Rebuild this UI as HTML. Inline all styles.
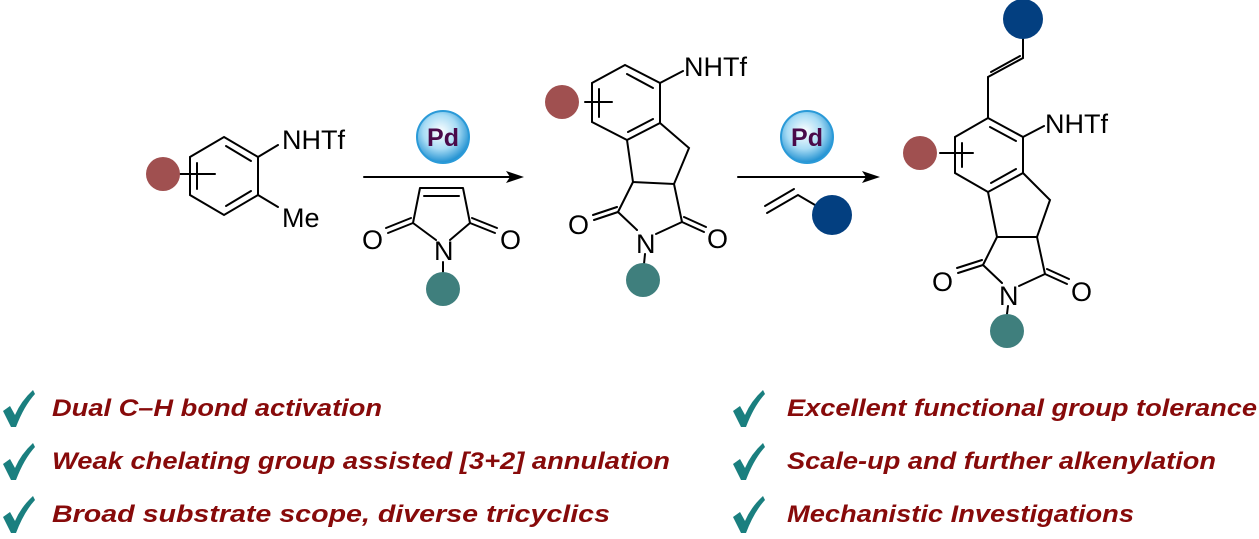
<!DOCTYPE html>
<html><head><meta charset="utf-8"><style>
html,body{margin:0;padding:0;background:#fff;}
svg{display:block;}
</style></head><body>
<svg width="1259" height="539" viewBox="0 0 1259 539" xmlns="http://www.w3.org/2000/svg" font-family="Liberation Sans, Arial, sans-serif">
<defs>
<radialGradient id="pd" cx="0.45" cy="0.4" r="0.6">
<stop offset="0" stop-color="#ffffff"/>
<stop offset="0.55" stop-color="#a8dcf5"/>
<stop offset="1" stop-color="#1e8fd0"/>
</radialGradient>
<g id="chk"><path d="M0,13 L7,8 L12,17 Q18,3 30,-8 L32,-4 Q21,8 13,29 L8,29 Z" fill="#1a7f7f"/></g>
</defs>
<g stroke="#000" stroke-width="2" fill="none" stroke-linecap="round">
<path d="M224,137 L258,157 L258,195 L224,215 L190,195 L190,157 Z"/>
<path d="M226,146 L251,161 M251,191 L226,206 M197,163 L197,189"/>
<path d="M258,157 L278,145 M258,195 L278,207 M180,174 L215,174"/>
<path d="M364,177 L512,177"/>
<path d="M420,188 L463,188 M424,196 L459,196 M420,188 L413,223 M463,188 L470,223 M413,223 L436,240 M470,223 L450,240 M443,262 L443,272"/>
<path d="M413,223 L388,233 M411,218 L386,228 M470,223 L495,233 M472,218 L497,228"/>
<path d="M625,65 L660,83 L660,123 L627,140 L592,122 L592,83 Z"/>
<path d="M627,74 L653,88 M653,119 L628,132 M599,89 L599,117 M585,102 L612,102"/>
<path d="M660,83 L683,71 M660,123 L689,148 L674,184 L633,182 L627,140"/>
<path d="M633,182 L618,212 M674,184 L682,222 M618,212 L637,230 M682,222 L656,234 M645,254 L644,264"/>
<path d="M618,212 L594,220 M617,207 L593,215 M682,222 L704,232 M684,217 L706,227"/>
<path d="M738,177 L868,177"/>
<path d="M767,213 L798,195 L815,205 M765,206 L794,189"/>
<path d="M988,118 L1023,137 L1023,173 L988,192 L955,173 L955,137 Z"/>
<path d="M990,127 L1016,141 M1016,169 L991,183 M962,143 L962,167 M940,153 L973,153"/>
<path d="M988,118 L988,77 L1023,58 L1023,38 M991,72 L1020,56"/>
<path d="M1023,137 L1044,126 M1023,173 L1050,200 L1037,237 L997,237 L988,192"/>
<path d="M997,237 L983,265 M1037,237 L1045,274 M983,265 L1002,283 M1045,274 L1019,286 M1008,306 L1007,314"/>
<path d="M983,265 L958,273 M982,260 L957,268 M1045,274 L1067,284 M1047,269 L1069,279"/>
</g>
<path d="M524,177 L506,171 L510,177 L506,183 Z" fill="#000"/>
<path d="M880,177 L862,171 L866,177 L862,183 Z" fill="#000"/>
<circle cx="163" cy="174" r="17" fill="#a05050"/>
<circle cx="443" cy="289" r="17" fill="#3f7f7d"/>
<circle cx="562" cy="102" r="17" fill="#a05050"/>
<circle cx="643" cy="280" r="17" fill="#3f7f7d"/>
<circle cx="832" cy="215" r="20" fill="#033f80"/>
<circle cx="920" cy="153" r="17" fill="#a05050"/>
<circle cx="1007" cy="331" r="17" fill="#3f7f7d"/>
<circle cx="1023" cy="19" r="20" fill="#033f80"/>
<circle cx="443" cy="137" r="26" fill="url(#pd)" stroke="#2a9ad8" stroke-width="2"/>
<text x="443" y="146" font-size="25" font-weight="bold" fill="#4a0a4a" text-anchor="middle">Pd</text>
<circle cx="807" cy="137" r="26" fill="url(#pd)" stroke="#2a9ad8" stroke-width="2"/>
<text x="807" y="146" font-size="25" font-weight="bold" fill="#4a0a4a" text-anchor="middle">Pd</text>
<g font-size="27" fill="#000">
<text x="282" y="149">NHTf</text>
<text x="282" y="227">Me</text>
<text x="362" y="249">O</text>
<text x="500" y="249">O</text>
<text x="434" y="260">N</text>
<text x="684" y="76">NHTf</text>
<text x="568" y="234">O</text>
<text x="707" y="248">O</text>
<text x="636" y="253">N</text>
<text x="1045" y="133">NHTf</text>
<text x="932" y="291">O</text>
<text x="1071" y="301">O</text>
<text x="999" y="305">N</text>
</g>
<use href="#chk" x="3" y="398"/>
<use href="#chk" x="3" y="451"/>
<use href="#chk" x="3" y="504"/>
<use href="#chk" x="733" y="398"/>
<use href="#chk" x="733" y="451"/>
<use href="#chk" x="733" y="504"/>
<g font-size="24" font-weight="bold" font-style="italic" fill="#870a0a">
<text x="52" y="416" textLength="330" lengthAdjust="spacingAndGlyphs">Dual C–H bond activation</text>
<text x="52" y="469" textLength="618" lengthAdjust="spacingAndGlyphs">Weak chelating group assisted [3+2] annulation</text>
<text x="52" y="522" textLength="558" lengthAdjust="spacingAndGlyphs">Broad substrate scope, diverse tricyclics</text>
<text x="787" y="416" textLength="470" lengthAdjust="spacingAndGlyphs">Excellent functional group tolerance</text>
<text x="787" y="469" textLength="429" lengthAdjust="spacingAndGlyphs">Scale-up and further alkenylation</text>
<text x="787" y="522" textLength="347" lengthAdjust="spacingAndGlyphs">Mechanistic Investigations</text>
</g>
</svg>
</body></html>
